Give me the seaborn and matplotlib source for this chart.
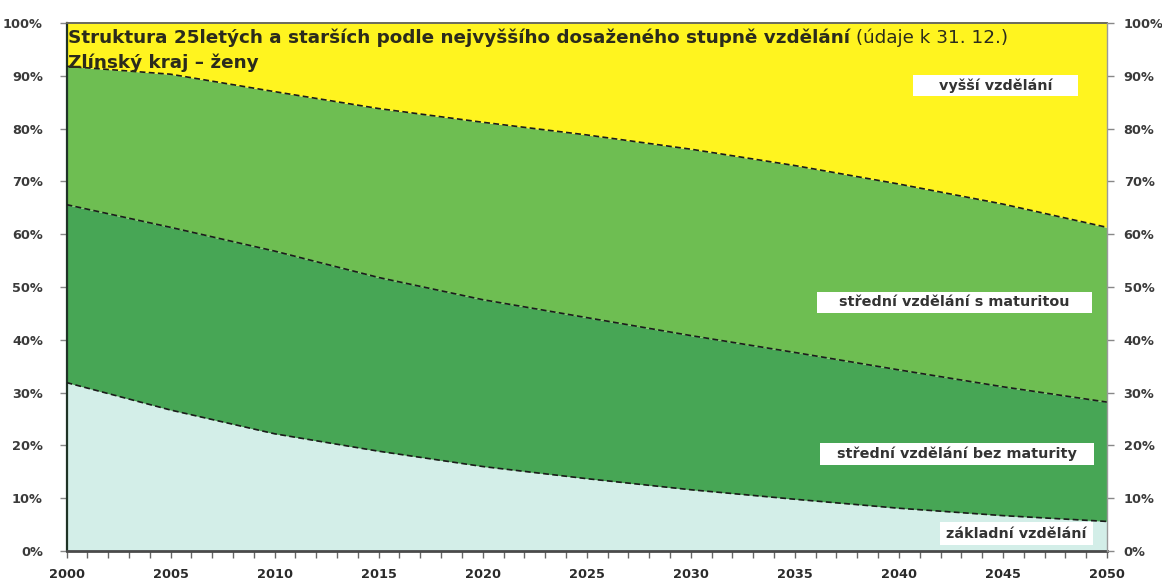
import numpy as np
import pandas as pd
import matplotlib
matplotlib.use("Agg")
import matplotlib.pyplot as plt
from matplotlib.patches import Rectangle
from matplotlib.ticker import MultipleLocator, FixedLocator
import seaborn as sns

# ---------------- data (percent shares) ----------------
years = [2000, 2005, 2010, 2015, 2020, 2025, 2030, 2035, 2040, 2045, 2050]
zakladni = [31.9, 26.7, 22.2, 18.9, 16.0, 13.7, 11.6, 9.8, 8.1, 6.7, 5.6]
bez_maturity = [33.7, 34.6, 34.6, 32.9, 31.6, 30.5, 29.2, 27.8, 26.2, 24.4, 22.6]
s_maturitou = [26.2, 29.0, 30.2, 32.0, 33.6, 34.6, 35.3, 35.4, 35.2, 34.6, 33.1]
vyssi = [8.2, 9.7, 13.0, 16.2, 18.8, 21.2, 23.9, 27.0, 30.5, 34.3, 38.7]

series_names = ["základní vzdělání", "střední vzdělání bez maturity",
                "střední vzdělání s maturitou", "vyšší vzdělání"]
colors = ["#D3EEE8", "#47A655", "#6EBE52", "#FFF41F"]

title_bold = "Struktura 25letých a starších podle nejvyššího dosaženého stupně vzdělání"
title_regular = " (údaje k 31. 12.)"
subtitle = "Zlínský kraj – ženy"
y_ticks = [0, 10, 20, 30, 40, 50, 60, 70, 80, 90, 100]
x_major = [2000, 2005, 2010, 2015, 2020, 2025, 2030, 2035, 2040, 2045, 2050]

# ---------------- style ----------------
sns.set_theme(style="white")
plt.rcParams["font.family"] = ["DejaVu Sans"]

W, H = 1162, 580
fig = plt.figure(figsize=(W / 100, H / 100), dpi=100)
fig.patch.set_facecolor("white")
L, R, B, T = 66.5, 1107, 551, 23
ax = fig.add_axes([L / W, 1 - B / H, (R - L) / W, (B - T) / H])

df = pd.DataFrame({"rok": years, series_names[0]: zakladni, series_names[1]: bez_maturity,
                   series_names[2]: s_maturitou, series_names[3]: vyssi})

lower = np.zeros(len(years))
bounds = []
for name, col in zip(series_names, colors):
    upper = lower + df[name].to_numpy()
    ax.fill_between(df["rok"], lower, upper, color=col, lw=0, zorder=1)
    bounds.append(upper.copy())
    lower = upper

# internal boundaries as dashed lines (seaborn)
long = pd.concat([pd.DataFrame({"rok": years, "hranice": b, "vrstva": i})
                  for i, b in enumerate(bounds[:3])], ignore_index=True)
sns.lineplot(data=long, x="rok", y="hranice", units="vrstva", estimator=None,
             color="#1b1b1b", linewidth=1.2, linestyle=(0, (3.5, 2)), ax=ax,
             legend=False, zorder=3)

ax.set_xlim(2000, 2050)
ax.set_ylim(0, 100)
ax.set_xlabel("")
ax.set_ylabel("")

tick_color = "#3a3a3a"
tick_font = dict(family="DejaVu Sans", weight="bold", size=9.3)

ax.xaxis.set_major_locator(FixedLocator(x_major))
ax.xaxis.set_minor_locator(MultipleLocator(1))
ax.set_xticks(x_major)
ax.set_xticklabels([str(v) for v in x_major], **tick_font, color="#2a2a2a")
ax.tick_params(axis="x", which="both", direction="out", length=5, width=1,
               color="#666666", bottom=True, pad=7)

ax.set_yticks(y_ticks)
ax.set_yticklabels([f"{v}%" for v in y_ticks], **tick_font, color=tick_color)
ax.tick_params(axis="y", which="major", direction="out", length=5, width=1,
               color="#888888", left=True, pad=12)

ax2 = ax.twinx()
ax2.set_ylim(0, 100)
ax2.set_yticks(y_ticks)
ax2.set_yticklabels([f"{v}%" for v in y_ticks], **tick_font, color=tick_color)
ax2.tick_params(axis="y", which="major", direction="out", length=5, width=1,
                color="#888888", right=True, pad=7)
ax2.grid(False)
ax.grid(False)

for a in (ax, ax2):
    for s in a.spines.values():
        s.set_visible(False)
ax.spines["left"].set_visible(True)
ax.spines["left"].set_color("#1f3326")
ax.spines["left"].set_linewidth(1.6)
ax.spines["bottom"].set_visible(True)
ax.spines["bottom"].set_color("#4a4a4a")
ax.spines["bottom"].set_linewidth(2.0)
ax.spines["top"].set_visible(True)
ax.spines["top"].set_color("#6a6a5a")
ax.spines["top"].set_linewidth(1.4)
ax2.spines["right"].set_visible(True)
ax2.spines["right"].set_color("#9a9a9a")
ax2.spines["right"].set_linewidth(1.0)

# ---------------- titles ----------------
title_color = "#2b2b1c"
title_font = dict(family="DejaVu Sans", size=13.2)
t1 = fig.text(68 / W, 1 - 38 / H, title_bold, ha="left", va="center",
              weight="bold", color=title_color, zorder=10, **title_font)
fig.text(68 / W, 1 - 63 / H, subtitle, ha="left", va="center",
         weight="bold", color=title_color, zorder=10, **title_font)
fig.canvas.draw()
bb = t1.get_window_extent()
fig.text(bb.x1 / W, 1 - 38 / H, title_regular, ha="left", va="center",
         weight="normal", color=title_color, zorder=10, **title_font)

# ---------------- in-plot labels with white boxes ----------------
label_boxes = {
    "vyšší vzdělání": (913, 1078, 75, 96),
    "střední vzdělání s maturitou": (817, 1092, 292, 313),
    "střední vzdělání bez maturity": (820, 1094, 443, 465),
    "základní vzdělání": (940, 1093, 522, 545),
}
for text, (x0, x1, y0, y1) in label_boxes.items():
    fig.add_artist(Rectangle((x0 / W, 1 - y1 / H), (x1 - x0) / W, (y1 - y0) / H,
                             transform=fig.transFigure, facecolor="white",
                             edgecolor="none", zorder=8))
    fig.text((x0 + x1) / 2 / W, 1 - (y0 + y1) / 2 / H, text, ha="center", va="center",
             family="DejaVu Sans", weight="bold", size=10.4, color="#333333", zorder=9)

fig.savefig("out.png", dpi=100)
